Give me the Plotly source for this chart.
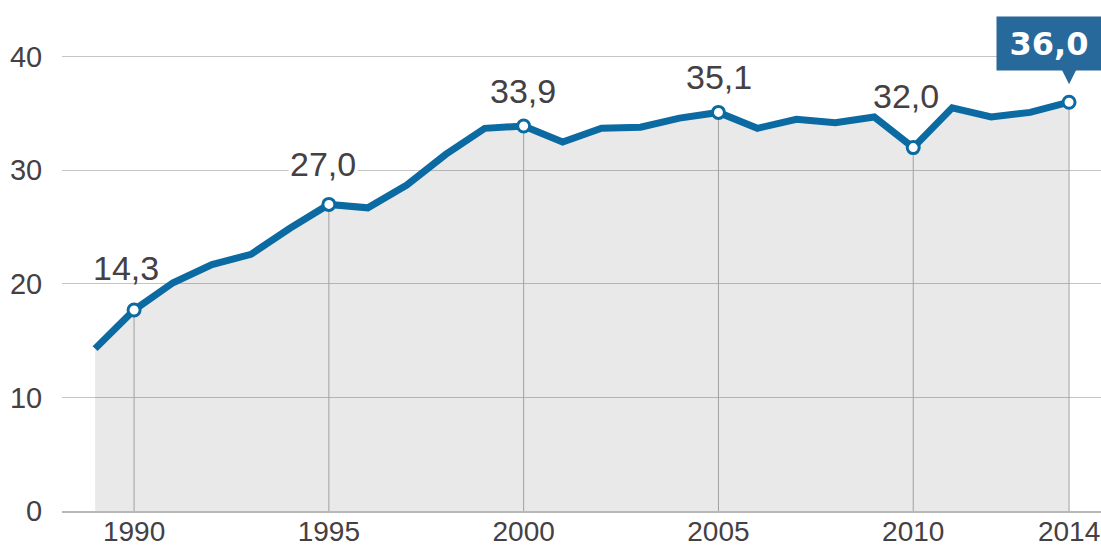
import plotly.graph_objects as go

years = list(range(1989, 2015))
values = [14.3, 17.7, 20.1, 21.7, 22.6, 24.9, 27.0, 26.7, 28.7, 31.4, 33.7, 33.9,
          32.5, 33.7, 33.8, 34.6, 35.1, 33.7, 34.5, 34.2, 34.7, 32.0, 35.5, 34.7,
          35.1, 36.0]
tick_years = [1990, 1995, 2000, 2005, 2010, 2014]
y_ticks = [0, 10, 20, 30, 40]
label_years = [1990, 1995, 2000, 2005, 2010]
label_texts = ["14,3", "27,0", "33,9", "35,1", "32,0"]
highlight_year = 2014
highlight_text = "36,0"

BLUE = "#0a6aa1"
BOX = "#28699c"
TXT = "#444044"

val = dict(zip(years, values))

fig = go.Figure()

# filled area
fig.add_trace(go.Scatter(x=years, y=values, mode="lines", fill="tozeroy",
                         fillcolor="rgba(0,0,0,0.085)", line=dict(width=0),
                         hoverinfo="skip", showlegend=False))
# vertical guide lines below the curve
vx, vy = [], []
for yr in tick_years:
    vx += [yr, yr, None]
    vy += [0, val[yr], None]
fig.add_trace(go.Scatter(x=vx, y=vy, mode="lines", line=dict(color="#a0a0a0", width=1),
                         hoverinfo="skip", showlegend=False))
# main line
fig.add_trace(go.Scatter(x=years, y=values, mode="lines", line=dict(color=BLUE, width=7),
                         showlegend=False))
# markers
mk_years = label_years + [highlight_year]
fig.add_trace(go.Scatter(x=mk_years, y=[val[y] for y in mk_years], mode="markers",
                         marker=dict(size=12, color="white", line=dict(color=BLUE, width=3)),
                         showlegend=False))

shifts = {1990: (-8, 42), 1995: (-6, 40), 2000: (-1, 35), 2005: (1, 35), 2010: (-7, 52)}
for yr, t in zip(label_years, label_texts):
    dx, dy = shifts[yr]
    fig.add_annotation(x=yr, y=val[yr], text=t, showarrow=False, xshift=dx, yshift=dy,
                       font=dict(family="Liberation Sans, Arial", size=34, color=TXT),
                       bgcolor="white" if yr == 1995 else None, borderpad=1)

# highlight box
fig.add_annotation(x=highlight_year, y=val[highlight_year], text="<b>" + highlight_text + "</b>",
                   showarrow=False, xshift=-20, yshift=59, bgcolor=BOX, borderpad=0,
                   width=104, height=53,
                   font=dict(family="DejaVu Sans", size=32, color="white"))
fig.add_shape(type="path", xref="x", yref="y", xsizemode="pixel", ysizemode="pixel",
              xanchor=highlight_year, yanchor=val[highlight_year],
              path="M -8 34 L 8 34 L 0 18 Z", fillcolor=BOX, line=dict(width=0))

fig.update_layout(
    width=1101, height=547,
    margin=dict(l=62, r=0, t=0, b=36),
    plot_bgcolor="white", paper_bgcolor="white",
    xaxis=dict(range=[1988.15, 2014.82], tickvals=tick_years, showgrid=False,
               showline=True, linecolor="#b8b8b8", linewidth=2, ticks="",
               automargin=False, ticklabeloverflow="allow", ticklabelstandoff=-6,
               tickfont=dict(family="Liberation Sans, Arial", size=28, color=TXT),
               zeroline=False),
    yaxis=dict(range=[0, 45.0], tickvals=y_ticks, showgrid=True, gridcolor="#c4c4c4",
               gridwidth=1, zeroline=False, ticks="outside", ticklen=13, tickcolor="white",
               automargin=False,
               tickfont=dict(family="Liberation Sans, Arial", size=29, color=TXT)),
)

fig.write_html("out.html", config={"displayModeBar": False},
               post_script="document.body.style.margin='0';document.body.style.overflow='hidden';")
